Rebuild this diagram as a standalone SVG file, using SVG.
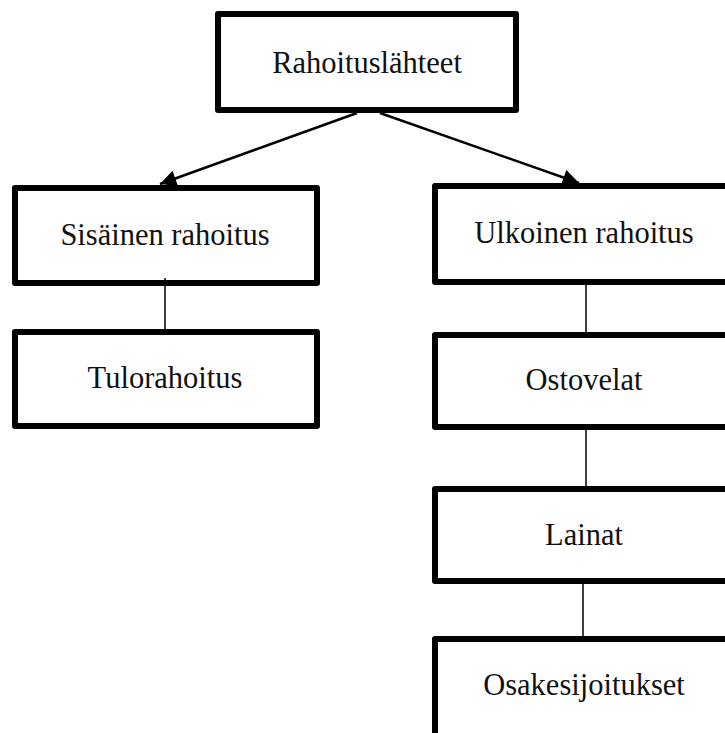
<svg xmlns="http://www.w3.org/2000/svg" width="725" height="733" viewBox="0 0 725 733">
<defs>
<style>
.box{fill:#fff;stroke:#000;stroke-width:6;stroke-linejoin:round}
.lbl{font-family:"Liberation Serif","Times New Roman",serif;font-size:30.5px;fill:#111;text-anchor:middle}
.arr{stroke:#000;stroke-width:2.5;fill:none}
.ln{stroke:#000;stroke-width:1.5;fill:none}
</style>
<marker id="ah" viewBox="0 0 10 10" refX="10" refY="5" markerWidth="7.5" markerHeight="6.5" markerUnits="strokeWidth" orient="auto">
<path d="M0,0 L10,5 L0,10 z" fill="#000"/>
</marker>
</defs>
<g id="n-top"><rect class="box" x="218" y="14" width="298" height="96"/><text class="lbl" x="367" y="73">Rahoituslähteet</text></g>
<g id="n-sisainen"><rect class="box" x="15" y="188" width="302" height="95"/><text class="lbl" x="165" y="245">Sisäinen rahoitus</text></g>
<g id="n-tulo"><rect class="box" x="15" y="332" width="302" height="94"/><text class="lbl" x="165" y="388">Tulorahoitus</text></g>
<g id="n-ulkoinen"><rect class="box" x="435" y="186" width="300" height="96"/><text class="lbl" x="584" y="243">Ulkoinen rahoitus</text></g>
<g id="n-osto"><rect class="box" x="435" y="335" width="300" height="92"/><text class="lbl" x="584" y="390">Ostovelat</text></g>
<g id="n-lainat"><rect class="box" x="435" y="489" width="300" height="92"/><text class="lbl" x="584" y="545">Lainat</text></g>
<g id="n-osake"><rect class="box" x="435" y="639" width="300" height="110"/><text class="lbl" x="584" y="695">Osakesijoitukset</text></g>
<g id="connectors">
<line class="arr" x1="357" y1="113" x2="160" y2="184" marker-end="url(#ah)"/>
<line class="arr" x1="380" y1="113" x2="579" y2="183" marker-end="url(#ah)"/>
<line class="ln" x1="165" y1="278" x2="165" y2="329"/>
<line class="ln" x1="586" y1="285" x2="586" y2="332"/>
<line class="ln" x1="586" y1="430" x2="586" y2="486"/>
<line class="ln" x1="583" y1="584" x2="583" y2="636"/>
</g>
</svg>
